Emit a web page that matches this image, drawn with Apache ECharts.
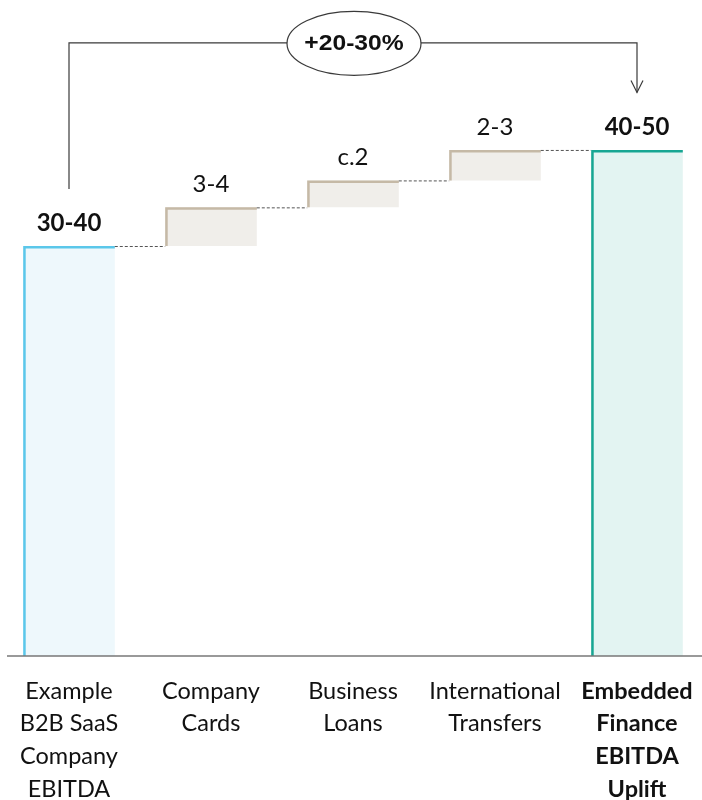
<!DOCTYPE html>
<html>
<head>
<meta charset="utf-8">
<script src="https://cdn.jsdelivr.net/npm/echarts@6/dist/echarts.min.js"></script>
<style>
  html, body { margin: 0; padding: 0; background: #ffffff; }
  #chart { width: 702px; height: 800px; }
</style>
</head>
<body>
<div id="chart"></div>
<script>
// ---- Data ----
const categories = [
  'Example\nB2B SaaS\nCompany\nEBITDA',
  'Company\nCards',
  'Business\nLoans',
  'International\nTransfers',
  'Embedded\nFinance\nEBITDA\nUplift'
];
const baseValue = 35;              // Example B2B SaaS Company EBITDA (30-40)
const increments = [3.3, 2.3, 2.6]; // Company Cards, Business Loans, International Transfers
const totalValue = 43.2;           // Embedded Finance EBITDA Uplift (40-50)
const valueLabels = ['30-40', '3-4', 'c.2', '2-3', '40-50'];
const upliftLabel = '+20-30%';

// ---- Build waterfall rows [catIndex, low, high, kind] ----
const rows = [];
rows.push([0, 0, baseValue, 0]);
let level = baseValue;
increments.forEach(function (v, i) {
  rows.push([i + 1, level, level + v, 1]);
  level += v;
});
rows.push([4, 0, totalValue, 2]);

const fills = ['#eef8fc', '#f0eeea', '#e3f4f2'];
const borders = ['#5bc7ea', '#c5b9a6', '#17a693'];
const FONT = 'Lato, "Noto Sans", sans-serif';

const chart = echarts.init(document.getElementById('chart'), null, { renderer: 'canvas' });

function renderBar(params, api) {
  const x = api.value(0), lo = api.value(1), hi = api.value(2), kind = api.value(3);
  const pTop = api.coord([x, hi]);
  const pBot = api.coord([x, lo]);
  const band = api.size([1, 0])[0];
  const barW = band * 0.645;
  const left = pTop[0] - barW / 2;
  const bw = 2.5;
  const children = [
    { type: 'rect', shape: { x: left, y: pTop[1], width: barW, height: pBot[1] - pTop[1] },
      style: { fill: fills[kind] } },
    { type: 'polyline',
      shape: { points: [[left + bw / 2, pBot[1]], [left + bw / 2, pTop[1] + bw / 2], [left + barW, pTop[1] + bw / 2]] },
      style: { stroke: borders[kind], lineWidth: bw, fill: null } },
    { type: 'text',
      style: { text: valueLabels[params.dataIndex], x: pTop[0], y: pTop[1] - 23,
        align: 'center', verticalAlign: 'middle', fill: '#111',
        fontSize: 24, fontFamily: FONT, fontWeight: (kind === 1 ? 'normal' : 'bold') } }
  ];
  if (params.dataIndex < rows.length - 1) {
    const nextLeft = pTop[0] + band - barW / 2;
    children.push({ type: 'line',
      shape: { x1: left + barW, y1: pTop[1] + 0.5, x2: nextLeft, y2: pTop[1] + 0.5 },
      style: { stroke: '#555', lineWidth: 1, lineDash: [3, 2] } });
  }
  return { type: 'group', children: children };
}

function renderAnnotation(params, api) {
  const pStart = api.coord([0, baseValue]);
  const pEnd = api.coord([4, totalValue]);
  const pMid = api.coord([2, totalValue]);
  const leftBottom = pStart[1] - 57;
  const tip = pEnd[1] - 57.5;
  const yb = tip - 49.5;
  const ax = pEnd[0];
  const lc = '#3a3a3a';
  return { type: 'group', children: [
    { type: 'polyline', shape: { points: [[pStart[0], leftBottom], [pStart[0], yb], [ax, yb], [ax, tip]] },
      style: { stroke: lc, lineWidth: 1.2, fill: null } },
    { type: 'polyline', shape: { points: [[ax - 6, tip - 12], [ax, tip], [ax + 6, tip - 12]] },
      style: { stroke: lc, lineWidth: 1.2, fill: null } },
    { type: 'ellipse', shape: { cx: pMid[0] + 1, cy: yb + 0.5, rx: 67, ry: 32 },
      style: { fill: '#ffffff', stroke: lc, lineWidth: 1.2 } },
    { type: 'text', x: pMid[0] + 1, y: yb + 0.5, scaleX: 1.12,
      style: { text: upliftLabel, x: 0, y: 0, align: 'center', verticalAlign: 'middle',
        fill: '#111', fontSize: 22, fontWeight: 'bold', fontFamily: '"Liberation Sans", Arial, sans-serif' } }
  ]};
}

const option = {
  backgroundColor: '#ffffff',
  animation: false,
  grid: { left: -2, width: 710, top: 70.3, bottom: 144, containLabel: false, outerBoundsMode: 'none' },
  xAxis: {
    type: 'category',
    data: categories,
    axisLine: { show: false },
    axisTick: { show: false },
    axisLabel: {
      interval: 0,
      margin: 19,
      color: '#111',
      fontFamily: FONT,
      fontSize: 23.5,
      lineHeight: 32.6,
      align: 'center',
      formatter: function (value, idx) {
        if (idx === 4) {
          return value.split('\n').map(function (s) { return '{b|' + s + '}'; }).join('\n');
        }
        return value;
      },
      rich: { b: { fontWeight: 'bold', fontFamily: FONT, fontSize: 23.5, lineHeight: 32.6, color: '#111' } }
    }
  },
  yAxis: { type: 'value', min: 0, max: 50, show: false, splitLine: { show: false } },
  graphic: [
    { type: 'line', shape: { x1: 7, y1: 656, x2: 702, y2: 656 },
      style: { stroke: '#777', lineWidth: 1.5 }, z: 10 }
  ],
  series: [
    { type: 'custom', renderItem: renderBar, data: rows, clip: false, z: 2,
      encode: { x: 0, y: [1, 2] } },
    { type: 'custom', renderItem: renderAnnotation, data: [[0, totalValue]], clip: false, z: 3,
      encode: { x: 0, y: 1 } }
  ]
};
chart.setOption(option);
</script>
</body>
</html>
